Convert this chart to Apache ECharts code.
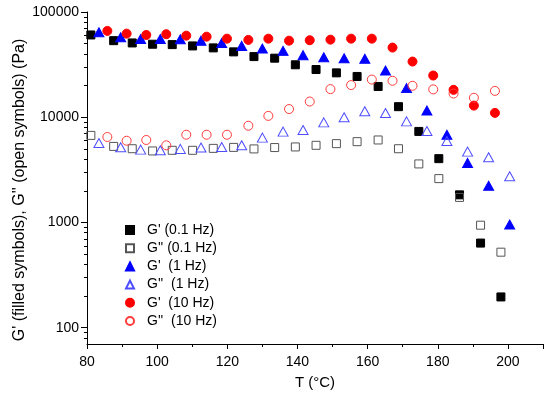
<!DOCTYPE html>
<html>
<head>
<meta charset="utf-8">
<script src="https://cdn.jsdelivr.net/npm/echarts@6/dist/echarts.min.js"></script>
<style>html,body{margin:0;padding:0;background:#fff}#c{width:550px;height:397px}</style>
</head>
<body>
<div id="c"></div>
<script>
// ---- data ----
var temps01 = [81.1, 87.6, 92.9, 98.7, 104.3, 110.1, 116.0, 121.8, 127.6, 133.5, 139.4, 145.3, 151.1, 157.0, 163.0, 168.8, 174.6, 180.3, 186.2, 192.2, 198.0];
var gp01 = [60500, 53400, 50800, 49400, 49000, 47600, 45600, 41800, 37700, 36400, 31500, 28400, 26400, 24400, 19600, 12600, 7330, 4040, 1830, 637, 196];
var gpp01 = [6720, 5280, 5020, 4780, 4850, 4850, 5060, 5170, 5000, 5150, 5220, 5410, 5610, 5860, 6080, 5020, 3600, 2610, 1730, 942, 522];

var temps1 = [83.4, 89.6, 95.3, 100.9, 106.6, 112.5, 118.4, 124.1, 130.0, 135.9, 141.6, 147.5, 153.3, 159.2, 165.1, 171.1, 176.9, 182.6, 188.5, 194.5, 200.5];
var gp1 = [64200, 57500, 55400, 55400, 55100, 53400, 50800, 47600, 44900, 42700, 38900, 37200, 36400, 35900, 27800, 18900, 11600, 6820, 3680, 2230, 957];
var gpp1 = [5690, 5180, 4920, 4850, 5000, 5150, 5220, 5410, 6400, 7300, 7570, 8940, 10000, 11400, 10960, 9130, 7400, 5940, 4710, 4160, 2750];

var temps10 = [85.8, 91.3, 96.9, 102.6, 108.3, 114.1, 119.9, 126.0, 131.7, 137.6, 143.5, 149.4, 155.3, 161.2, 167.1, 172.8, 178.7, 184.5, 190.3, 196.3];
var gp10 = [66100, 62300, 60500, 61500, 59600, 58300, 55800, 54300, 55800, 53400, 53900, 54600, 55800, 55800, 45900, 33800, 24900, 18200, 12900, 11000];
var gpp10 = [6490, 5980, 6080, 5410, 6820, 6820, 6820, 8300, 10300, 11960, 14100, 18500, 20200, 22800, 22200, 19900, 18400, 16800, 15300, 17800];

var seriesNames = ["G' (0.1 Hz)", "G'' (0.1 Hz)", "G'  (1 Hz)", "G''  (1 Hz)", "G'  (10 Hz)", "G''  (10 Hz)"];
var yMajorTicks = [100, 1000, 10000, 100000];
var yMinorTicks = [80, 90, 200, 300, 400, 500, 600, 700, 800, 900, 2000, 3000, 4000, 5000, 6000, 7000, 8000, 9000, 20000, 30000, 40000, 50000, 60000, 70000, 80000, 90000];
var xLabel = 'T (\u00B0C)';
var yLabel = "G' (filled symbols), G'' (open symbols) (Pa)";

function pairs(xs, ys) { return xs.map(function (x, i) { return [x, ys[i]]; }); }

var FONT = 'Liberation Sans, Arial, sans-serif';
var chart = echarts.init(document.getElementById('c'), null, { renderer: 'canvas' });

function sc(name, xs, ys, symbol, size, fill, stroke, z) {
  return {
    name: name, type: 'scatter', data: pairs(xs, ys), symbol: symbol, symbolSize: size,
    itemStyle: { color: fill, borderColor: stroke, borderWidth: 1, opacity: 1 },
    emphasis: { disabled: true }, z: z
  };
}

chart.setOption({
  animation: false,
  backgroundColor: '#fff',
  grid: { left: 87, right: 7, top: 12, bottom: 53 },
  legend: {
    orient: 'vertical', left: 120, top: 217, itemWidth: 8, itemHeight: 8, itemGap: 2.2,
    data: seriesNames,
    textStyle: { fontFamily: FONT, fontSize: 14, color: '#000', lineHeight: 16, padding: [0, 0, 0, 8] },
    selectedMode: false
  },
  xAxis: {
    type: 'value', min: 80, max: 210, interval: 20,
    name: xLabel, nameLocation: 'middle', nameGap: 31,
    nameTextStyle: { fontFamily: FONT, fontSize: 15, color: '#000' },
    axisLine: { show: true, lineStyle: { color: '#000', width: 1 } },
    axisTick: { show: true, inside: false, length: 5, lineStyle: { color: '#000' } },
    minorTick: { show: true, splitNumber: 2, length: 3, lineStyle: { color: '#000' } },
    axisLabel: { fontFamily: FONT, fontSize: 14, color: '#000', margin: 11, showMaxLabel: false },
    splitLine: { show: false }
  },
  yAxis: [{
    type: 'log', min: 70, max: 100000,
    axisLine: { show: true, lineStyle: { color: '#000', width: 1 } },
    axisTick: { show: true, inside: false, length: 6, customValues: yMajorTicks, lineStyle: { color: '#000' } },
    axisLabel: { fontFamily: FONT, fontSize: 14, color: '#000', margin: 8, customValues: yMajorTicks,
      formatter: function (v) { return String(Math.round(v)); } },
    splitLine: { show: false }
  }, {
    type: 'log', min: 70, max: 100000, position: 'left',
    axisLine: { show: false },
    axisTick: { show: true, inside: false, length: 3, customValues: yMinorTicks, lineStyle: { color: '#000' } },
    axisLabel: { show: false },
    splitLine: { show: false }
  }],
  graphic: [{
    type: 'text', x: 20, y: 190, rotation: Math.PI / 2,
    style: { text: yLabel, fontFamily: FONT, fontSize: 16, fill: '#000', align: 'center', verticalAlign: 'middle' }
  }],
  series: [
    sc(seriesNames[0], temps01, gp01, 'rect', 8, '#000000', '#000000', 2),
    sc(seriesNames[1], temps01, gpp01, 'rect', 8, 'rgba(0,0,0,0)', '#555555', 3),
    sc(seriesNames[2], temps1, gp1, 'triangle', [10, 9], '#0000ff', '#0000ff', 2),
    sc(seriesNames[3], temps1, gpp1, 'triangle', [10, 9], 'rgba(0,0,0,0)', '#4d4dff', 3),
    sc(seriesNames[4], temps10, gp10, 'circle', 9, '#ff0000', '#ff0000', 2),
    sc(seriesNames[5], temps10, gpp10, 'circle', 9, 'rgba(0,0,0,0)', '#ff3b3b', 3)
  ]
});
</script>
</body>
</html>
